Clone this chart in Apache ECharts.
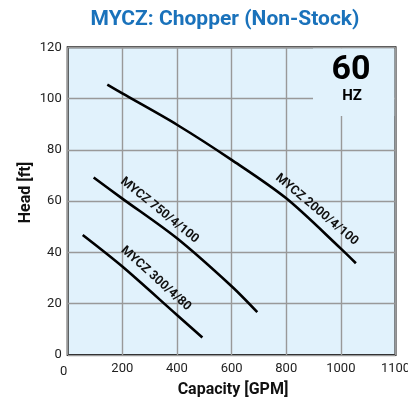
<!DOCTYPE html>
<html>
<head>
<meta charset="utf-8">
<script src="https://cdn.jsdelivr.net/npm/echarts@6/dist/echarts.min.js"></script>
<style>
html,body{margin:0;padding:0;background:#fff;}
#chart{width:408px;height:398px;}
</style>
</head>
<body>
<div id="chart"></div>
<script>
// ---- data ----
var seriesNames = ['MYCZ 2000/4/100', 'MYCZ 750/4/100', 'MYCZ 300/4/80'];
var capacity2000 = [145, 200, 400, 600, 800, 1000, 1055];
var head2000     = [105.4, 102, 89.8, 76.1, 61.1, 41.5, 35.8];
var capacity750  = [95, 200, 400, 600, 694];
var head750      = [69.2, 61, 45.5, 26.8, 16.7];
var capacity300  = [55, 200, 400, 493];
var head300      = [46.8, 34.5, 15.6, 6.8];
var xTickLabels = ['0', '200', '400', '600', '800', '1000', '1100'];
var yTickLabels = ['0', '20', '40', '60', '80', '100', '120'];
var titleText = 'MYCZ: Chopper (Non-Stock)';
var freqText = '60';
var freqUnit = 'HZ';
var xName = 'Capacity [GPM]';
var yName = 'Head [ft]';

function pairs(xs, ys) { return xs.map(function (x, i) { return [x, ys[i]]; }); }

var FONT = 'Roboto';
var chart = echarts.init(document.getElementById('chart'));

function curve(name, xs, ys, labelCoord, rot) {
  return {
    type: 'line',
    name: name,
    data: pairs(xs, ys),
    smooth: 0.3,
    symbol: 'none',
    lineStyle: { color: '#000', width: 2.6 },
    z: 5,
    markPoint: {
      symbol: 'circle',
      symbolSize: 0,
      itemStyle: { color: 'transparent' },
      label: {
        show: true,
        position: 'inside',
        formatter: name,
        rotate: rot,
        color: '#111',
        fontFamily: FONT,
        fontWeight: 'bold',
        fontSize: 12.5
      },
      data: [{ coord: labelCoord }]
    }
  };
}

var option = {
  animation: false,
  grid: {
    left: 67.7, right: 12.5, top: 47.3, bottom: 43,
    outerBoundsMode: 'none',
    containLabel: false,
    show: true,
    backgroundColor: '#e1f2fc',
    borderColor: '#111',
    borderWidth: 2,
    z: 0
  },
  xAxis: {
    type: 'value', min: 0, max: 1200, interval: 200,
    axisLine: { show: false }, axisTick: { show: false },
    splitLine: { show: true, lineStyle: { color: '#999', width: 1.4 } },
    axisLabel: {
      margin: 7,
      color: '#222', fontFamily: FONT, fontSize: 13,
      formatter: function (v) {
        var t = xTickLabels[Math.round(v / 200)];
        if (v === 0) return '{l|' + t + '}';
        return t;
      },
      rich: {
        l: { padding: [3, 8, 0, 0], color: '#222', fontFamily: FONT, fontSize: 13 }
      }
    }
  },
  yAxis: {
    type: 'value', min: 0, max: 120, interval: 20,
    axisLine: { show: false }, axisTick: { show: false },
    splitLine: { show: true, lineStyle: { color: '#999', width: 1.4 } },
    axisLabel: {
      margin: 6,
      color: '#222', fontFamily: FONT, fontSize: 13,
      formatter: function (v) { return yTickLabels[Math.round(v / 20)]; }
    }
  },
  graphic: [
    { type: 'rect', shape: { x: 313, y: 48.5, width: 81.2, height: 67.5 }, style: { fill: '#e1f2fc' }, z: 1, silent: true },
    { type: 'text', x: 225, y: 20, z: 10,
      style: { text: titleText, fill: '#1a72bb', font: 'bold 21px ' + FONT, textAlign: 'center', textVerticalAlign: 'middle' } },
    { type: 'text', x: 351, y: 70, z: 10,
      style: { text: freqText, fill: '#000', font: 'bold 34px ' + FONT, textAlign: 'center', textVerticalAlign: 'middle' } },
    { type: 'text', x: 352, y: 96, z: 10,
      style: { text: freqUnit, fill: '#000', font: 'bold 15px ' + FONT, textAlign: 'center', textVerticalAlign: 'middle' } },
    { type: 'text', x: 233, y: 390, z: 10,
      style: { text: xName, fill: '#111', font: 'bold 16px ' + FONT, textAlign: 'center', textVerticalAlign: 'middle' } },
    { type: 'text', x: 26, y: 192.5, rotation: Math.PI / 2, z: 10,
      style: { text: yName, fill: '#111', font: 'bold 16px ' + FONT, textAlign: 'center', textVerticalAlign: 'middle' } }
  ],
  series: [
    curve(seriesNames[0], capacity2000, head2000, [912, 56.7], -40),
    curve(seriesNames[1], capacity750, head750, [336, 56.4], -39),
    curve(seriesNames[2], capacity300, head300, [323, 29.8], -42)
  ]
};
chart.setOption(option);
</script>
</body>
</html>
